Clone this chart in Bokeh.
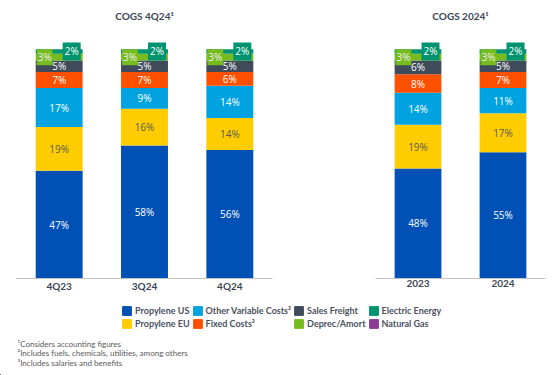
from bokeh.plotting import figure
from bokeh.models import ColumnDataSource, Range1d, FactorRange, Legend, LegendItem
from bokeh.layouts import column, row
from bokeh.embed import file_html
from bokeh.resources import INLINE
from bokeh.core.properties import value

# ---------------- data ----------------
quarters = ["4Q23", "3Q24", "4Q24"]
years = ["2023", "2024"]

series_keys = ["us", "eu", "other", "fixed", "freight", "deprec", "energy", "gas"]
series_labels = ["Propylene US", "Propylene EU", "Other Variable Costs²", "Fixed Costs³",
                 "Sales Freight", "Deprec/Amort", "Electric Energy", "Natural Gas"]

propylene_us_q = [47, 58, 56]
propylene_eu_q = [19, 16, 14]
other_var_q = [17, 9, 14]
fixed_q = [7, 7, 6]
freight_q = [5, 5, 5]
deprec_q = [3, 3, 3]
energy_q = [2, 2, 2]
gas_q = [0, 0, 0]

propylene_us_y = [48, 55]
propylene_eu_y = [19, 17]
other_var_y = [14, 11]
fixed_y = [8, 7]
freight_y = [6, 5]
deprec_y = [3, 3]
energy_y = [2, 2]
gas_y = [0, 0]

footnotes = ["¹Considers accounting figures",
             "²Includes fuels, chemicals, utilities, among others",
             "³Includes salaries and benefits"]

# ---------------- style ----------------
colors = ["#0050B5", "#FFCC00", "#00A3E0", "#FF5000", "#3F4B5B", "#77BC1F", "#00936F", "#8E3B97"]
text_colors = ["white", "#5a5a5a", "white", "white", "white", "#f0f0f0", "white", "white"]
FONT = "Lato"
LABEL_FONT = "Open Sans"
DARK = "#3d4656"
Y_TOP = 121.2      # headroom above 100% so the title fits inside the frame
TITLE_Y = 114.6


def make_panel(title, cats, vals, width, bl, br):
    p = figure(x_range=FactorRange(*cats), y_range=Range1d(0, Y_TOP), width=width, height=300,
               output_backend="svg", toolbar_location=None, y_axis_location=None,
               min_border_left=bl, min_border_right=br, min_border_top=0, min_border_bottom=22)
    data = dict(x=list(cats))
    for k, v in zip(series_keys, vals):
        data[k] = v
    src = ColumnDataSource(data)
    p.vbar_stack(series_keys, x="x", width=0.55, color=colors, source=src, line_color=None)

    bottoms = [0] * len(cats)
    for i, (k, v) in enumerate(zip(series_keys, vals)):
        xs, ys, ts = [], [], []
        for j, c in enumerate(cats):
            if v[j] > 0:
                xs.append(c)
                ys.append(bottoms[j] + v[j] / 2)
                ts.append(f"{v[j]}%")
            bottoms[j] += v[j]
        if not xs:
            continue
        kw = dict(text_align="center", text_baseline="middle", x_offset=0, y_offset=0)
        if k == "deprec":
            kw = dict(text_align="left", text_baseline="middle", x_offset=-22.5, y_offset=0,
                      background_fill_color=colors[i], padding=1)
        elif k == "energy":
            kw = dict(text_align="right", text_baseline="middle", x_offset=21.5, y_offset=0,
                      background_fill_color=colors[i], padding=2)
        p.text(x=xs, y=ys, text=ts, text_color=text_colors[i], text_font=value(LABEL_FONT),
               text_font_size="10px", **kw)

    # panel title, centred over the category axis
    p.text(x=[len(cats) / 2], y=[TITLE_Y], text=[title], text_align="center",
           text_baseline="middle", text_font=value(FONT), text_font_size="10px",
           text_font_style="bold", text_color=DARK)

    p.grid.visible = False
    p.outline_line_color = None
    p.xaxis.axis_line_color = "#C4C4C4"
    p.xaxis.major_tick_line_color = None
    p.xaxis.minor_tick_line_color = None
    p.xaxis.major_label_text_font = FONT
    p.xaxis.major_label_text_font_style = "bold"
    p.xaxis.major_label_text_font_size = "10px"
    p.xaxis.major_label_text_color = DARK
    p.xaxis.major_label_standoff = -5
    return p


pa = make_panel("COGS 4Q24¹", quarters,
                [propylene_us_q, propylene_eu_q, other_var_q, fixed_q, freight_q, deprec_q, energy_q, gas_q],
                290, 16, 18)
pb = make_panel("COGS 2024¹", years,
                [propylene_us_y, propylene_eu_y, other_var_y, fixed_y, freight_y, deprec_y, energy_y, gas_y],
                263, 85, 8)

pc = figure(width=553, height=75, x_range=Range1d(0, 553), y_range=Range1d(0, 75),
            output_backend="svg", toolbar_location=None, min_border=0,
            x_axis_location=None, y_axis_location=None)
pc.grid.visible = False
pc.outline_line_color = None

items = []
for lab, c in zip(series_labels, colors):
    # off-screen swatch renderer used only for the legend glyph
    r = pc.vbar(x=[-1000], top=[1], width=1, color=c)
    items.append(LegendItem(label=lab, renderers=[r]))
legend = Legend(items=items, location=(121, 46), orientation="vertical", nrows=2,
                glyph_width=11, glyph_height=11, label_height=11, label_standoff=3,
                spacing=2, padding=0, margin=0, border_line_color=None,
                background_fill_alpha=0, label_text_font=FONT, label_text_font_style="bold",
                label_text_font_size="9px", label_text_color="#4a5060")
pc.add_layout(legend)

pc.text(x=[17, 17, 17], y=[32, 22.5, 12.5], text=footnotes, text_font=value(FONT),
        text_font_size="8px", text_color="#5a5a5a", text_baseline="middle", text_align="left")

layout = column(row(pa, pb), pc)
open("out.html", "w").write(file_html(layout, INLINE))
